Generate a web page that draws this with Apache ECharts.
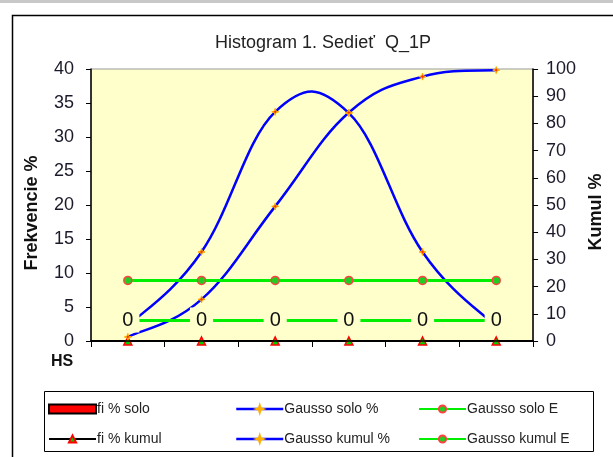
<!DOCTYPE html>
<html>
<head>
<meta charset="utf-8">
<script src="https://cdn.jsdelivr.net/npm/echarts@6/dist/echarts.min.js"></script>
<style>
  html, body { margin: 0; padding: 0; background: #fff; }
  #chart { width: 613px; height: 457px; }
</style>
</head>
<body>
<div id="chart"></div>
<script>
// kategorie (triedy) - bez popisov na osi
const categories = ['1', '2', '3', '4', '5', '6']
// hodnoty odcitane z grafu
const fiSolo = [0, 0, 0, 0, 0, 0]
const fiKumul = [0, 0, 0, 0, 0, 0]
const gaussSolo = [2.2, 13.1, 33.7, 33.5, 13.1, 2.1]
const gaussKumul = [1.5, 15.3, 49.5, 84, 97.2, 99.6]
const gaussSoloE = [8.9, 8.9, 8.9, 8.9, 8.9, 8.9]
const gaussKumulE = [7.5, 7.5, 7.5, 7.5, 7.5, 7.5]
const leftTicks = { min: 0, max: 40, interval: 5 }
const rightTicks = { min: 0, max: 100, interval: 10 }

const font = 'Liberation Sans, Arial, sans-serif'
const txt = '#1a1a2a'
const star = 'path://M5,0 L6.2,3.8 L10,5 L6.2,6.2 L5,10 L3.8,6.2 L0,5 L3.8,3.8 Z'
const blue = '#0000ff'

const myChart = echarts.init(document.getElementById('chart'))

// excelovske vyhladenie (catmull-rom), echarts smooth nepresahuje body
function curveSeries (name, values, axis) {
  return {
    name: name + ' krivka',
    type: 'custom',
    yAxisIndex: axis,
    z: 2,
    silent: true,
    data: values.map((v, i) => [i, v]),
    renderItem (params, api) {
      if (params.dataIndex !== 0) return null
      const p = values.map((v, i) => api.coord([i, v]))
      const k = 0.2
      const children = []
      for (let i = 0; i < p.length - 1; i++) {
        const p0 = p[Math.max(i - 1, 0)]
        const p1 = p[i]
        const p2 = p[i + 1]
        const p3 = p[Math.min(i + 2, p.length - 1)]
        children.push({
          type: 'bezierCurve',
          shape: {
            x1: p1[0], y1: p1[1],
            cpx1: p1[0] + (p2[0] - p0[0]) * k, cpy1: p1[1] + (p2[1] - p0[1]) * k,
            cpx2: p2[0] - (p3[0] - p1[0]) * k, cpy2: p2[1] - (p3[1] - p1[1]) * k,
            x2: p2[0], y2: p2[1]
          },
          style: { stroke: blue, lineWidth: 2.5, fill: 'none' }
        })
      }
      return { type: 'group', children: children }
    }
  }
}

const gaussMarker = {
  symbol: star,
  symbolSize: 7,
  z: 3,
  lineStyle: { color: blue, width: 2.5, opacity: 0 },
  itemStyle: { color: '#ff2a00', borderColor: '#ffb000', borderWidth: 1 }
}

const legendBase = {
  orient: 'vertical',
  top: 397,
  itemWidth: 47,
  itemHeight: 9,
  itemGap: 16,
  textStyle: { fontSize: 14, color: '#222', padding: [0, 0, 0, -4] }
}

const option = {
  animation: false,
  textStyle: { fontFamily: font },
  title: {
    text: 'Histogram 1. Sedieť  Q_1P',
    left: 318,
    textAlign: 'center',
    top: 29,
    textStyle: { fontSize: 18, fontWeight: 'normal', color: '#222', fontFamily: font }
  },
  grid: {
    left: 91,
    right: 74,
    top: 69,
    bottom: 116,
    show: true,
    backgroundColor: '#FFFFCC',
    borderColor: '#999',
    borderWidth: 1
  },
  legend: [
    Object.assign({}, legendBase, {
      left: 43,
      data: [{ name: 'fi % solo', icon: 'rect' }, 'fi % kumul']
    }),
    Object.assign({}, legendBase, {
      left: 230,
      data: [
        { name: 'Gausso solo %', lineStyle: { color: blue, width: 2.5, opacity: 1 } },
        { name: 'Gausso kumul %', lineStyle: { color: blue, width: 2.5, opacity: 1 } }
      ]
    }),
    Object.assign({}, legendBase, {
      left: 413,
      data: ['Gausso solo E', 'Gausso kumul E']
    })
  ],
  xAxis: {
    type: 'category',
    data: categories,
    boundaryGap: true,
    axisLine: { lineStyle: { color: '#000', width: 2 } },
    axisTick: { show: true, inside: false, length: 6, lineStyle: { color: '#000', width: 1 } },
    axisLabel: { show: false },
    splitLine: { show: false }
  },
  yAxis: [
    {
      type: 'value',
      min: leftTicks.min,
      max: leftTicks.max,
      interval: leftTicks.interval,
      position: 'left',
      name: 'Frekvencie %',
      nameLocation: 'middle',
      nameRotate: 90,
      nameGap: 50,
      nameTextStyle: { fontSize: 18, fontWeight: 'bold', color: '#111', padding: [0, 16, 0, 0] },
      axisLine: { show: true, lineStyle: { color: '#000', width: 1.5 } },
      axisTick: { show: true, length: 5, lineStyle: { color: '#000' } },
      axisLabel: { fontSize: 18, color: txt, margin: 17 },
      splitLine: { show: false }
    },
    {
      type: 'value',
      min: rightTicks.min,
      max: rightTicks.max,
      interval: rightTicks.interval,
      position: 'right',
      name: 'Kumul %',
      nameLocation: 'middle',
      nameRotate: 90,
      nameGap: 43,
      nameTextStyle: { fontSize: 18, fontWeight: 'bold', color: '#111', padding: [0, 14, 0, 0] },
      axisLine: { show: true, lineStyle: { color: '#000', width: 1.5 } },
      axisTick: { show: true, length: 5, lineStyle: { color: '#000' } },
      axisLabel: { fontSize: 18, color: txt, margin: 13 },
      splitLine: { show: false }
    }
  ],
  graphic: [
    {
      type: 'rect',
      left: 0,
      top: 0,
      shape: { width: 613, height: 3 },
      style: { fill: '#c8c8c8' },
      silent: true
    },
    {
      type: 'rect',
      left: 10,
      top: 13,
      shape: { width: 620, height: 460 },
      style: { fill: 'none', stroke: '#000', lineWidth: 1.5 },
      silent: true
    },
    {
      type: 'rect',
      left: 42,
      top: 389,
      shape: { width: 549, height: 60 },
      style: { fill: 'none', stroke: '#000', lineWidth: 1 },
      silent: true
    },
    {
      type: 'text',
      left: 51,
      top: 354,
      style: { text: 'HS', font: 'bold 16px ' + font, fill: '#111' },
      silent: true
    }
  ],
  series: [
    {
      name: 'fi % solo',
      type: 'bar',
      yAxisIndex: 0,
      z: 10,
      data: fiSolo,
      itemStyle: { color: '#ff0000', borderColor: '#000', borderWidth: 1 },
      label: {
        show: true,
        position: 'top',
        distance: 8,
        fontSize: 20,
        color: '#111',
        backgroundColor: '#FFFFCC',
        padding: [3, 6, 2, 6]
      }
    },
    {
      name: 'fi % kumul',
      type: 'line',
      yAxisIndex: 1,
      data: fiKumul,
      symbol: 'triangle',
      symbolSize: 8,
      lineStyle: { color: '#000', width: 2 },
      itemStyle: { color: '#00cc00', borderColor: '#ff0000', borderWidth: 1.5 }
    },
    curveSeries('Gausso solo %', gaussSolo, 0),
    curveSeries('Gausso kumul %', gaussKumul, 1),
    Object.assign({ name: 'Gausso solo %', type: 'line', yAxisIndex: 0, data: gaussSolo }, gaussMarker),
    Object.assign({ name: 'Gausso kumul %', type: 'line', yAxisIndex: 1, data: gaussKumul }, gaussMarker),
    {
      name: 'Gausso solo E',
      type: 'line',
      yAxisIndex: 0,
      data: gaussSoloE,
      symbol: 'circle',
      symbolSize: 8,
      lineStyle: { color: '#00ee00', width: 3 },
      itemStyle: { color: '#22cc22', borderColor: '#ff4040', borderWidth: 1.5 }
    },
    {
      name: 'Gausso kumul E',
      type: 'line',
      yAxisIndex: 1,
      data: gaussKumulE,
      symbol: 'circle',
      symbolSize: 8,
      lineStyle: { color: '#00ee00', width: 3 },
      itemStyle: { color: '#22cc22', borderColor: '#ff4040', borderWidth: 1.5 }
    }
  ]
}

myChart.setOption(option, true)
</script>
</body>
</html>
